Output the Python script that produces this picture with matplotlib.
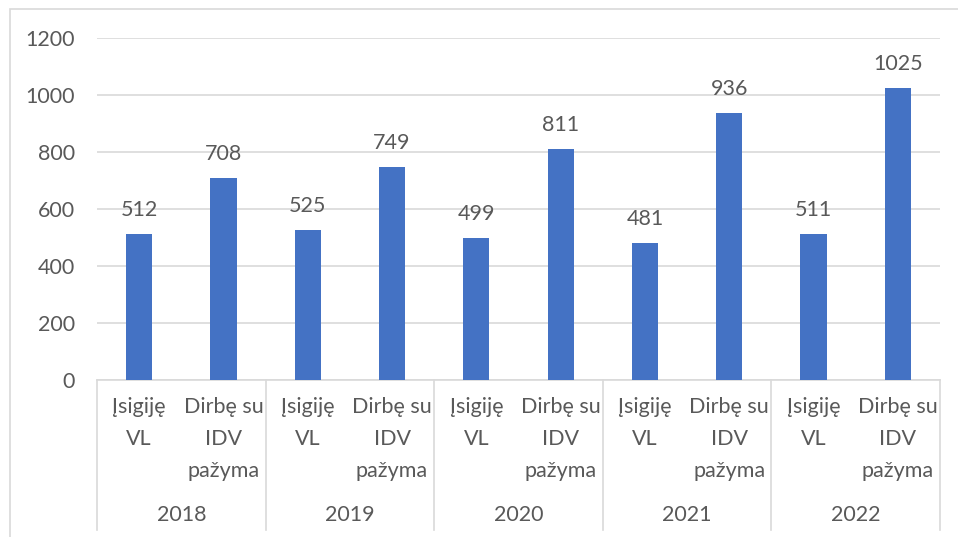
import matplotlib.pyplot as plt
from matplotlib.patches import Rectangle

# Data
years = ["2018", "2019", "2020", "2021", "2022"]
categories = ["Įsigiję\nVL", "Dirbę su\nIDV\npažyma"]
isigije_vl = [512, 525, 499, 481, 511]
dirbe_idv = [708, 749, 811, 936, 1025]

BAR_COLOR = "#4472C4"
TEXT_COLOR = "#595959"
GRID_COLOR = "#D9D9D9"
FONT = ["Lato", "DejaVu Sans"]
FS = 15.5

plt.rcParams["font.family"] = FONT

fig = plt.figure(figsize=(9.58, 5.37), dpi=100)
ax = fig.add_axes([97 / 958, 1 - 380 / 537, (940 - 97) / 958, (380 - 38) / 537])

# interleave the two series: one pair of bars per year
values = []
labels = []
for a, b in zip(isigije_vl, dirbe_idv):
    values += [a, b]
    labels += categories
xs = list(range(len(values)))

bars = ax.bar(xs, values, width=0.31, color=BAR_COLOR, zorder=3)
for x, v in zip(xs, values):
    ax.annotate(str(v), (x, v), xytext=(0, 10), textcoords="offset points",
                ha="center", va="bottom", fontsize=FS, color=TEXT_COLOR)

ax.set_xlim(-0.5, len(values) - 0.5)
ax.set_ylim(0, 1200)
ax.set_yticks(range(0, 1201, 200))
ax.tick_params(axis="y", length=0, labelsize=FS, labelcolor=TEXT_COLOR, pad=16)
ax.set_xticks([])
ax.grid(axis="y", color=GRID_COLOR, linewidth=1.2, zorder=0)
for side in ["top", "right", "left"]:
    ax.spines[side].set_visible(False)
ax.spines["bottom"].set_color(GRID_COLOR)
ax.spines["bottom"].set_linewidth(1.2)

# multi-level category axis below the plot
trans = ax.get_xaxis_transform()
sep_bottom = -(530 - 380) / 342
for i in range(len(years) + 1):
    xb = -0.5 + 2 * i
    ax.plot([xb, xb], [0, sep_bottom], transform=trans, clip_on=False,
            color=GRID_COLOR, linewidth=1.2)
for x, lab in zip(xs, labels):
    ax.text(x, -(397 - 380) / 342, lab, transform=trans, ha="center", va="top",
            fontsize=FS, color=TEXT_COLOR, linespacing=1.75)
for i, yr in enumerate(years):
    ax.text(2 * i + 0.5, -(515 - 380) / 342, yr, transform=trans, ha="center",
            va="center", fontsize=FS, color=TEXT_COLOR)

# outer chart frame
fig.patches.append(Rectangle((10 / 958, -0.1), 1.1, 1 - 9 / 537 + 0.1,
                             transform=fig.transFigure, fill=False,
                             edgecolor=GRID_COLOR, linewidth=1.2))

fig.savefig("out.png", dpi=100)
